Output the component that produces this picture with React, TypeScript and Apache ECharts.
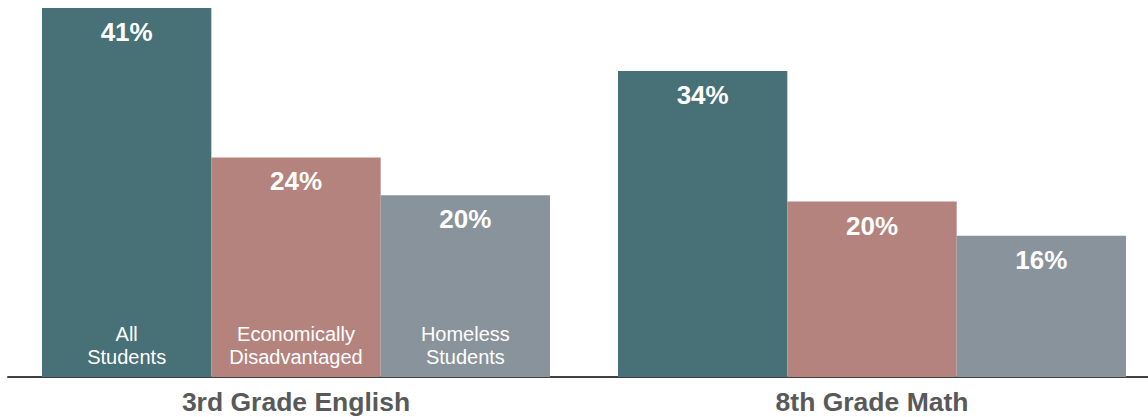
import React, { useEffect, useRef } from "react";
import * as echarts from "echarts";

const categories = ["3rd Grade English", "8th Grade Math"];
const seriesNames = ["All\nStudents", "Economically\nDisadvantaged", "Homeless\nStudents"];
const allStudents = [41.0, 34.0];
const econDisadvantaged = [24.4, 19.5];
const homelessStudents = [20.2, 15.7];
const colors = ["#477077", "#B5837E", "#89939B"];

const CAT_GAP = 0.118;

export default function App() {
  const ref = useRef<HTMLDivElement>(null);
  useEffect(() => {
    if (!ref.current) return;
    const chart = echarts.init(ref.current, null, { renderer: "svg" });
    const values = [allStudents, econDisadvantaged, homelessStudents];
    const barSeries = values.map((vals, i) => ({
      type: "bar",
      name: seriesNames[i],
      data: vals,
      barGap: "0%",
      barCategoryGap: CAT_GAP * 100 + "%",
      itemStyle: { color: colors[i] },
      label: {
        show: true,
        position: "insideTop",
        distance: 11,
        color: "#ffffff",
        fontSize: 26,
        fontWeight: "bold",
        fontFamily: "Arial, 'Liberation Sans', sans-serif",
        formatter: (p: any) => Math.round(p.value) + "%",
      },
    }));
    const labelData = seriesNames.map((name, i) => [0, i, name]);
    const option = {
      animation: false,
      grid: { left: 8, right: 0, top: 8, bottom: 40 },
      xAxis: {
        type: "category",
        data: categories,
        axisTick: { show: false },
        axisLine: { show: true, lineStyle: { color: "#404040", width: 2 } },
        axisLabel: {
          margin: 11,
          color: "#595959",
          fontSize: 26.5,
          fontWeight: "bold",
          fontFamily: "Arial, 'Liberation Sans', sans-serif",
        },
      },
      yAxis: {
        type: "value",
        min: 0,
        max: 41,
        show: false,
        splitLine: { show: false },
      },
      series: [
        ...barSeries,
        {
          type: "custom",
          data: labelData,
          z: 10,
          renderItem: (params: any, api: any) => {
            const cat = api.value(0);
            const idx = api.value(1);
            const base = api.coord([cat, 0]);
            const bandW = api.size([1, 0])[0];
            const groupW = bandW * (1 - CAT_GAP);
            const barW = groupW / 3;
            const x = base[0] - groupW / 2 + barW * (idx + 0.5);
            return {
              type: "text",
              x,
              y: base[1] - 8,
              style: {
                text: seriesNames[idx],
                fill: "#ffffff",
                fontSize: 20,
                lineHeight: 23.5,
                fontFamily: "Arial, 'Liberation Sans', sans-serif",
                align: "center",
                verticalAlign: "bottom",
              },
            };
          },
        },
      ],
    };
    chart.setOption(option as any);
    return () => chart.dispose();
  }, []);
  return (
    <div
      style={{ position: "fixed", left: 0, top: 0, width: 1148, height: 417, overflow: "hidden", background: "#ffffff" }}
    >
      <div ref={ref} style={{ width: 1160, height: 417 }} />
    </div>
  );
}
